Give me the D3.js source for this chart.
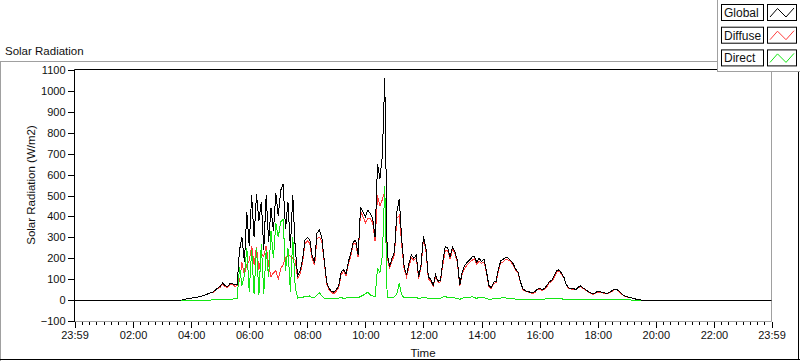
<!DOCTYPE html>
<html><head><meta charset="utf-8">
<script src="https://cdn.jsdelivr.net/npm/d3@7"></script>
<style>
html,body{margin:0;padding:0;background:#fff;}
svg{display:block;}
text{font-family:"Liberation Sans",Arial,sans-serif;fill:#101010;}
</style></head><body>
<svg id="c" width="800" height="361"></svg>
<script>
// ---------- data ----------
const seriesNames = ["Global", "Diffuse", "Direct"];
const seriesColors = ["#000000", "#ff3c3c", "#14e614"];
const xTickLabels = ["23:59","02:00","04:00","06:00","08:00","10:00","12:00","14:00","16:00","18:00","20:00","22:00","23:59"];
const yTickValues = [-100,0,100,200,300,400,500,600,700,800,900,1000,1100];
const startTime = "03:40";   // first sample
const stepMinutes = 5;       // sample interval

const globalValues = [
0,3,5,7,9,11,13,15,17,22,26,30,34,38,48,58,65,82,70,64,78,80,72,75,
240,300,180,420,260,500,300,505,380,470,240,500,280,440,330,510,400,525,555,340,470,250,500,250,115,
140,190,285,300,290,210,180,320,335,300,190,85,55,42,38,50,70,135,145,125,185,225,280,285,
215,445,420,400,430,415,390,300,650,580,690,1064,225,160,200,230,420,485,290,160,120,175,215,200,215,110,170,305,
250,110,100,70,120,90,95,
185,255,250,205,255,230,190,70,
135,165,180,190,205,210,180,200,185,195,140,70,60,85,90,150,190,195,205,200,190,175,150,135,90,
55,45,42,38,35,40,52,55,50,55,70,88,95,115,140,145,130,110,75,58,55,55,50,62,68,58,50,42,35,30,35,42,40,36,34,32,38,46,52,50,40,28,20,16,13,10,7,4,2,
0];

const diffuseValues = [
0,3,5,7,9,11,13,15,17,22,26,30,34,36,45,55,61,77,65,60,73,75,66,69,
90,180,120,170,190,260,170,255,145,220,210,260,170,110,130,140,100,150,170,200,220,210,200,190,105,
125,178,267,285,270,198,166,295,300,280,180,77,48,36,30,43,60,123,137,115,173,211,270,273,
205,427,398,370,392,390,370,282,500,450,480,520,210,150,188,215,390,405,265,148,110,161,203,190,203,102,160,291,
238,102,90,64,112,85,87,
170,237,238,195,243,220,182,66,
127,151,168,180,189,198,172,186,175,183,132,66,55,79,85,142,180,183,195,192,184,168,145,130,86,
52,42,39,36,32,36,49,51,47,50,64,83,87,109,133,140,124,106,72,55,53,52,48,59,64,55,47,40,33,28,32,38,37,34,32,30,36,43,49,48,38,27,19,15,12,10,7,4,2,
0];

const directValues = [
0,0,0,0,0,0,0,0,0,0,0,0,0,2,3,3,4,5,5,4,5,5,6,6,
160,70,120,250,40,240,30,250,25,270,30,240,110,330,200,370,300,375,385,140,250,40,300,60,10,
15,12,18,15,20,12,14,25,35,20,10,8,7,6,8,7,10,12,8,10,12,14,10,12,
10,18,22,30,38,25,20,18,150,130,210,544,15,10,12,15,30,80,25,12,10,14,12,10,12,8,10,14,
12,8,10,6,8,5,8,
15,18,12,10,12,10,8,4,
8,14,12,10,16,12,8,14,10,12,8,4,5,6,5,8,10,12,10,8,6,7,5,5,4,
3,3,3,2,3,4,3,4,3,5,6,5,8,6,7,5,6,4,3,3,2,3,2,3,4,3,3,2,2,2,3,4,3,2,2,2,2,3,3,2,2,1,1,1,1,0,0,0,0,
0];

// ---------- helpers ----------
const dayStart = new Date(2020, 0, 1, 23, 59);
const dayEnd = new Date(2020, 0, 2, 23, 59);
function clock(str, day) {
  const [h, m] = str.split(":").map(Number);
  return new Date(2020, 0, day, h, m);
}
const t0 = clock(startTime, 2);
const sampleTimes = globalValues.map((_, i) => new Date(t0.getTime() + i * stepMinutes * 60000));
const seriesValues = [globalValues, diffuseValues, directValues];

// ---------- layout ----------
const svg = d3.select("#c");
const L = 74.5, R = 771.5, T = 69.5, B = 321.5;
const x = d3.scaleTime().domain([dayStart, dayEnd]).range([L, R]);
const y = d3.scaleLinear().domain([-100, 1100]).range([B - 0.5, T + 0.5]);

// outer frame
svg.append("line").attr("x1",0).attr("x2",717).attr("y1",61.5).attr("y2",61.5).attr("stroke","#a0a0a0");
svg.append("line").attr("x1",0.5).attr("x2",0.5).attr("y1",61.5).attr("y2",361).attr("stroke","#a0a0a0");
svg.append("line").attr("x1",0).attr("x2",800).attr("y1",359.5).attr("y2",359.5).attr("stroke","#000");
svg.append("line").attr("x1",798.5).attr("x2",798.5).attr("y1",72).attr("y2",360).attr("stroke","#000");

// title
svg.append("text").attr("x",5).attr("y",55).attr("font-size","11.5px").text("Solar Radiation");

// plot borders
svg.append("line").attr("x1",L).attr("x2",R).attr("y1",T).attr("y2",T).attr("stroke","#000");
svg.append("line").attr("x1",R).attr("x2",R).attr("y1",T).attr("y2",B).attr("stroke","#a0a0a0");
svg.append("line").attr("x1",L).attr("x2",R).attr("y1",B).attr("y2",B).attr("stroke","#a0a0a0");
svg.append("line").attr("x1",L).attr("x2",L).attr("y1",T).attr("y2",B).attr("stroke","#000");

// y axis
const yAxis = d3.axisLeft(y).tickValues(yTickValues).tickSize(7).tickPadding(2).tickFormat(d3.format("d"));
const gy = svg.append("g").attr("transform", `translate(${L},0)`).call(yAxis);
gy.select(".domain").remove();
gy.selectAll("text").attr("font-size","11px").attr("font-family","Liberation Sans, Arial, sans-serif").attr("fill","#101010");
gy.selectAll("line").attr("stroke","#000").attr("shape-rendering","crispEdges");

// x axis - major
const majorTimes = xTickLabels.map((s, i) => i === 0 ? dayStart : (i === xTickLabels.length - 1 ? dayEnd : clock(s, 2)));
const xAxis = d3.axisBottom(x).tickValues(majorTimes).tickSize(6).tickPadding(4)
  .tickFormat((d, i) => xTickLabels[i]);
const gx = svg.append("g").attr("transform", `translate(0,${B})`).call(xAxis);
gx.select(".domain").remove();
gx.selectAll("text").attr("font-size","11px").attr("font-family","Liberation Sans, Arial, sans-serif").attr("fill","#101010");
gx.selectAll("line").attr("stroke","#000").attr("shape-rendering","crispEdges");

// x axis - minor (every 15 min)
const minorTimes = [];
for (let i = 0; i < majorTimes.length - 1; i++) {
  const a = majorTimes[i].getTime(), b = majorTimes[i + 1].getTime();
  for (let j = 1; j < 8; j++) minorTimes.push(new Date(a + (b - a) * j / 8));
}
const gxm = svg.append("g").attr("transform", `translate(0,${B})`)
  .call(d3.axisBottom(x).tickValues(minorTimes).tickSize(3).tickFormat(""));
gxm.select(".domain").remove();
gxm.selectAll("line").attr("stroke","#000").attr("shape-rendering","crispEdges");

// axis labels
svg.append("text").attr("transform", "translate(35,185) rotate(-90)").attr("text-anchor","middle")
  .attr("font-size","11.5px").text("Solar Radiation (W/m2)");
svg.append("text").attr("x", (L + R) / 2).attr("y", 357).attr("text-anchor","middle")
  .attr("font-size","11.5px").text("Time");

// lines: Diffuse under Global (Global carries the zero baseline over the whole day), Direct on top
const line = d3.line().x(d => x(d.t)).y(d => y(d.v));
const clipId = "plotclip";
svg.append("clipPath").attr("id", clipId).append("rect")
  .attr("x", L).attr("y", T).attr("width", R - L).attr("height", B - T);
const gLines = svg.append("g").attr("clip-path", `url(#${clipId})`);
[1, 0, 2].forEach(si => {
  const vals = seriesValues[si];
  let pts = vals.map((v, i) => ({t: sampleTimes[i], v}));
  if (si === 0) pts = [{t: dayStart, v: 0}].concat(pts).concat([{t: dayEnd, v: 0}]);
  gLines.append("path").datum(pts).attr("d", line)
    .attr("fill","none").attr("stroke", seriesColors[si]).attr("stroke-width",1)
    .attr("shape-rendering","crispEdges");
});

// legend
const lg = svg.append("g");
lg.append("rect").attr("x",717.5).attr("y",-1).attr("width",84).attr("height",72.5)
  .attr("fill","#fff").attr("stroke","#a0a0a0");
seriesNames.forEach((name, i) => {
  const y0 = 4 + i * 22.7;
  lg.append("rect").attr("x",721.5).attr("y",y0 + 0.5).attr("width",42).attr("height",16)
    .attr("fill","#fff").attr("stroke","#000");
  lg.append("text").attr("x",724).attr("y",y0 + 13).attr("font-size","12px").text(name);
  lg.append("rect").attr("x",767.5).attr("y",y0 + 0.5).attr("width",29).attr("height",16)
    .attr("fill","#fff").attr("stroke","#000");
  const zig = [[770, y0 + 13], [777.5, y0 + 4.5], [786, y0 + 13], [794, y0 + 4]];
  lg.append("path").attr("d", d3.line()(zig)).attr("fill","none")
    .attr("stroke", seriesColors[i]).attr("stroke-width",1);
});
</script>
</body></html>
